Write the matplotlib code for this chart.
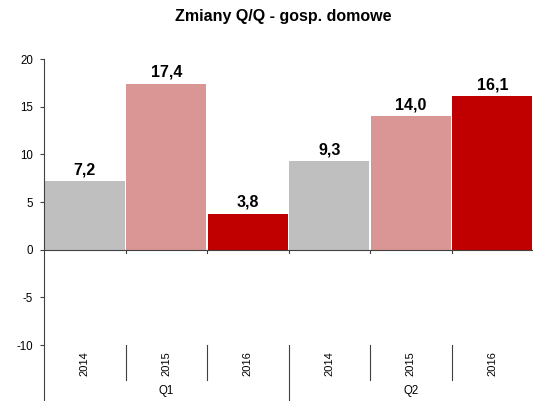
import matplotlib
matplotlib.use("Agg")
import matplotlib.pyplot as plt
import numpy as np

plt.rcParams['font.family'] = ['Liberation Sans', 'DejaVu Sans']

# data
quarters = ['Q1', 'Q2']
years = ['2014', '2015', '2016']
values = [7.2, 17.4, 3.8, 9.3, 14.0, 16.1]
year_colors = {'2014': '#BFBFBF', '2015': '#D99694', '2016': '#C00000'}
yticks = [-10, -5, 0, 5, 10, 15, 20]

labels = [y for q in quarters for y in years]
colors = [year_colors[y] for y in labels]
x = np.arange(len(values))

fig = plt.figure(figsize=(5.33, 4.01), dpi=100)
ax = fig.add_axes([44 / 533, 0.0, 1 - 44 / 533, 1 - 59 / 401])

bars = ax.bar(x, values, width=0.985, color=colors, edgecolor='none', zorder=2)
for xi, v in zip(x, values):
    ax.annotate(f"{v:.1f}".replace('.', ','), (xi, v), xytext=(0, 5),
                textcoords='offset points', ha='center', va='baseline',
                fontsize=11.5, fontweight='bold')

ax.set_xlim(-0.5, len(values) - 0.5)
ax.set_ylim(-15.85, 20)
ax.set_yticks(yticks)
ax.set_yticklabels([str(t) for t in yticks], fontsize=8.3)
ax.tick_params(axis='y', length=3, width=0.8, color='#404040', pad=5)
ax.set_xticks([])

for s in ['top', 'right', 'bottom']:
    ax.spines[s].set_visible(False)
ax.spines['left'].set_color('#404040')
ax.spines['left'].set_linewidth(0.8)

# zero line with small ticks between categories
ax.axhline(0, color='#404040', lw=0.8, zorder=3)
for b in np.arange(0.5, len(values) - 0.5):
    ax.plot([b, b], [0, -0.35], color='#404040', lw=0.8, clip_on=False, zorder=3)

# category axis below -10
for b in np.arange(0.5, len(values) - 0.5):
    bottom = -15.85 if (b + 0.5) % len(years) == 0 else -13.7
    ax.plot([b, b], [-10, bottom], color='#404040', lw=0.8, zorder=3)

for xi, lab in zip(x, labels):
    ax.text(xi, -11.9, lab, rotation=90, ha='center', va='center', fontsize=8)

for i, q in enumerate(quarters):
    ax.text(i * len(years) + 1, -14.8, q, ha='center', va='center', fontsize=8.3)

fig.text(283.5 / 533, 1 - 17 / 401, 'Zmiany Q/Q - gosp. domowe', ha='center',
         va='center', fontsize=11.5, fontweight='bold')

fig.savefig('out.png', dpi=100)
